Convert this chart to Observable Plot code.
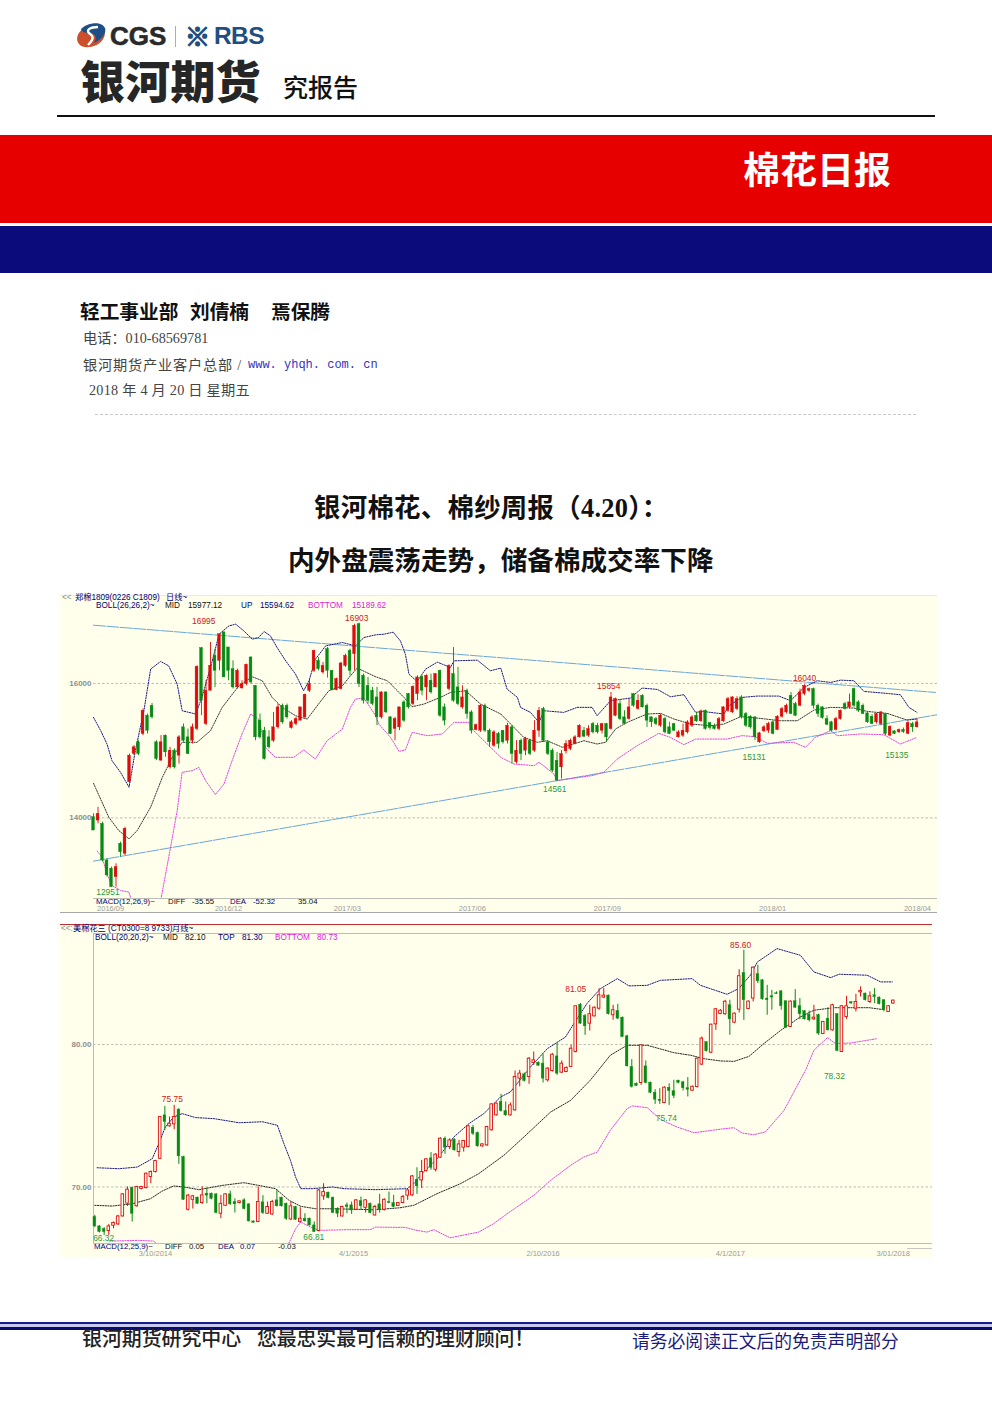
<!DOCTYPE html>
<html lang="zh">
<head>
<meta charset="utf-8">
<script src="https://cdn.jsdelivr.net/npm/d3@7"></script>
<script src="https://cdn.jsdelivr.net/npm/@observablehq/plot@0.6"></script>
<style>
html,body{margin:0;padding:0;background:#fff}
#page{position:relative;width:992px;height:1403px;overflow:hidden;background:#fff;font-family:"Noto Sans CJK SC",sans-serif;color:#222}
.t{position:absolute;white-space:pre;line-height:1;transform:translateY(-50%)}
.b{position:absolute}
.sm{font-family:"Liberation Sans","Noto Sans CJK SC",sans-serif;font-size:8.2px;color:#111}
.s2{font-size:8.2px}
.nv{color:#00007a}.mg{color:#e020e0}.gr{color:#8a8a8a}
.sr{font-family:"Liberation Serif","Noto Sans CJK SC",serif;font-size:14.2px;color:#444}
.chart{position:absolute}
.chart svg{display:block}
</style>
</head>
<body>
<div id="page">
  <svg class="b" style="left:76px;top:22px" width="32" height="28" viewBox="0 0 32 28">
    <ellipse cx="15" cy="14" rx="14.5" ry="10.5" transform="rotate(-25 15 14)" fill="#c9502a"/>
    <path d="M5 7 C12 0 26 -1 29 6 C31 12 24 18 18 21 C22 14 18 11 13 11 C9 11 6 10 5 7Z" fill="#1d4f86"/>
    <path d="M22 5 C14 5 10 8 13 11 C17 14 19 16 12 23" fill="none" stroke="#fff" stroke-width="2.4"/>
  </svg>
  <span class="t" style="left:110px;top:36px;font:bold 26px 'Liberation Sans';color:#2a2a2a;-webkit-text-stroke:.6px #2a2a2a">CGS</span>
  <div class="b" style="left:175px;top:26px;width:1px;height:21px;background:#c9a58f"></div>
  <span class="t" style="left:185px;top:35px;font:bold 25px 'Noto Sans CJK SC';color:#1f4f80;-webkit-text-stroke:1.4px #1f4f80">※</span>
  <span class="t" style="left:214px;top:36px;font:bold 24.5px 'Liberation Sans';color:#1f4f80;letter-spacing:-.6px">RBS</span>
  <span class="t" style="left:80px;top:79px;font-size:45px;font-weight:900;letter-spacing:.2px;color:#262626">银河期货</span>
  <span class="t" style="left:283px;top:86px;font-size:25px;font-weight:500;color:#111">究报告</span>
  <div class="b" style="left:57px;top:115px;width:878px;height:2px;background:#111"></div>

  <div class="b" style="left:0;top:135px;width:992px;height:88px;background:#e60000"></div>
  <div class="b" style="left:0;top:226px;width:992px;height:47px;background:#0b0b7c"></div>
  <span class="t" style="left:743px;top:168px;font-size:37px;font-weight:700;color:#fff">棉花日报</span>

  <span class="t" style="left:80px;top:311px;font-size:19.7px;font-weight:700;color:#111">轻工事业部</span>
  <span class="t" style="left:190px;top:311px;font-size:19.7px;font-weight:700;color:#111">刘倩楠</span>
  <span class="t" style="left:271px;top:311px;font-size:19.7px;font-weight:700;color:#111">焉保腾</span>
  <span class="t sr" style="left:83px;top:338px">电话：010-68569781</span>
  <span class="t sr" style="left:83px;top:365px;letter-spacing:.8px">银河期货产业客户总部 /</span>
  <span class="t" style="left:248px;top:365px;font:12px 'Liberation Mono';color:#3333bb">www. yhqh. com. cn</span>
  <span class="t sr" style="left:89px;top:390px;letter-spacing:.25px">2018 年 4 月 20 日 星期五</span>
  <div class="b" style="left:95px;top:414px;width:821px;border-top:1px dashed #c8c8c8"></div>

  <span class="t" style="left:314px;top:507px;font-size:26.4px;font-weight:700;color:#111;letter-spacing:.3px">银河棉花、棉纱周报（<span style="font-family:'Liberation Serif'">4.20</span>）：</span>
  <span class="t" style="left:288px;top:559px;font-size:26.6px;font-weight:700;color:#111">内外盘震荡走势，储备棉成交率下降</span>

  <div id="c1" class="chart" style="left:60px;top:595px;border-top:1px solid #fde3d6;border-bottom:1px solid #a8a8a8"></div>
  <div id="c2" class="chart" style="left:60px;top:924px;border-top:1px solid #c03030"></div>
  <div class="b" style="left:907px;top:1248px;width:25px;height:1px;background:#c8c8c0"></div>

  <!-- chart 1 captions -->
  <span class="t sm gr" style="left:62px;top:597.5px">&lt;&lt;</span>
  <span class="t sm nv" style="left:75px;top:597.5px">郑棉1809(0226 C1809)</span>
  <span class="t sm nv" style="left:166px;top:597.5px">日线~</span>
  <span class="t sm nv" style="left:96px;top:606px">BOLL(26,26,2)~</span>
  <span class="t sm" style="left:165px;top:606px">MID</span>
  <span class="t sm" style="left:188px;top:606px">15977.12</span>
  <span class="t sm nv" style="left:241px;top:606px">UP</span>
  <span class="t sm nv" style="left:260px;top:606px">15594.62</span>
  <span class="t sm mg" style="left:308px;top:606px">BOTTOM</span>
  <span class="t sm mg" style="left:352px;top:606px">15189.62</span>
  <span class="t sm nv" style="left:96px;top:901.5px;font-size:7.8px">MACD(12,26,9)~</span>
  <span class="t sm" style="left:168px;top:901.5px;font-size:7.8px">DIFF</span>
  <span class="t sm" style="left:192px;top:901.5px;font-size:7.8px">-35.55</span>
  <span class="t sm nv" style="left:230px;top:901.5px;font-size:7.8px">DEA</span>
  <span class="t sm nv" style="left:253px;top:901.5px;font-size:7.8px">-52.32</span>
  <span class="t sm" style="left:298px;top:901.5px;font-size:7.8px">35.04</span>

  <!-- chart 2 captions -->
  <span class="t sm gr" style="left:61px;top:928.5px">&lt;&lt;:</span>
  <span class="t sm nv" style="left:73px;top:928.5px">美棉花三 (CT0300=8 9733)</span>
  <span class="t sm nv" style="left:172px;top:928.5px">月线~</span>
  <span class="t sm s2 nv" style="left:95px;top:937.5px">BOLL(20,20,2)~</span>
  <span class="t sm s2" style="left:163px;top:937.5px">MID</span>
  <span class="t sm s2" style="left:185px;top:937.5px">82.10</span>
  <span class="t sm s2 nv" style="left:218px;top:937.5px">TOP</span>
  <span class="t sm s2 nv" style="left:242px;top:937.5px">81.30</span>
  <span class="t sm s2 mg" style="left:275px;top:937.5px">BOTTOM</span>
  <span class="t sm s2 mg" style="left:317px;top:937.5px">80.73</span>
  <span class="t sm nv" style="left:94px;top:1246.5px;font-size:7.8px">MACD(12,25,9)~</span>
  <span class="t sm" style="left:165px;top:1246.5px;font-size:7.8px">DIFF</span>
  <span class="t sm" style="left:189px;top:1246.5px;font-size:7.8px">0.05</span>
  <span class="t sm nv" style="left:218px;top:1246.5px;font-size:7.8px">DEA</span>
  <span class="t sm nv" style="left:240px;top:1246.5px;font-size:7.8px">0.07</span>
  <span class="t sm" style="left:278px;top:1246.5px;font-size:7.8px">-0.03</span>

  <!-- footer -->
  <div class="b" style="left:0;top:1322px;width:992px;height:2px;background:#1a1a88"></div>
  <div class="b" style="left:0;top:1324px;width:992px;height:3px;background:#c9c9ee"></div>
  <div class="b" style="left:0;top:1327px;width:992px;height:3px;background:#0b0b6e"></div>
  <span class="t" style="left:82px;top:1338px;font-size:19.9px;font-weight:500;color:#222">银河期货研究中心</span>
  <span class="t" style="left:257px;top:1338px;font-size:19.9px;font-weight:500;color:#222;letter-spacing:-.1px">您最忠实最可信赖的理财顾问！</span>
  <span class="t" style="left:632px;top:1341px;font-size:17.8px;color:#1a1a7a">请务必阅读正文后的免责声明部分</span>
</div>

<script>
// ===== Chart 1: 郑棉 daily candles =====
const opens1 = [
14010,13960,13911,13367,13243,13119,13614,13466,14530,14950,
15124,15248,15520,15668,15124,14852,15223,14752,15000,14926,
15347,15198,15148,15322,16525,15396,15891,16411,16336,16757,
16535,16213,15940,15926,15990,16386,15965,15446,15297,15198,
15148,15347,15668,15668,15337,15396,15446,15495,15891,16188,
16336,16163,16510,16188,15901,15916,16262,16485,16436,16881,
16114,15965,15891,15792,15495,15866,15495,15322,15347,15718,
15842,15693,15842,16099,15941,16040,15941,16188,15644,15916,
16138,15941,15644,15891,15569,15307,15297,15668,15297,15074,
15248,15297,15148,15347,14827,15148,15000,15148,15000,15297,
15619,15124,15000,14851,14752,14990,15025,15099,15198,15297,
15223,15396,15371,15297,15396,15322,15520,15693,15495,15470,
15842,15619,15817,15668,15495,15470,15371,15470,15347,15396,
15198,15223,15272,15371,15520,15436,15594,15411,15371,15322,
15436,15594,15569,15619,15792,15545,15505,15495,15124,15287,
15297,15421,15307,15505,15569,15817,15693,15668,15842,15891,
15916,15668,15644,15470,15421,15307,15470,15693,15644,15916,
15718,15668,15554,15505,15421,15396,15545,15223,15287,15272,
15307,15248,15396,15347];
const closes1 = [
13812,14060,13367,13144,12970,13268,13490,13837,14926,15050,
14950,15594,15297,15495,14876,15124,14975,15000,14752,15198,
15148,14950,15347,16247,15743,15891,16262,16188,16732,16089,
16188,15940,16188,15990,16277,16015,15198,15198,14876,15050,
15347,15644,15421,15495,15421,15470,15644,15832,15990,16485,
16213,16262,16188,15901,16064,16297,16411,16188,16856,15990,
15743,15743,15693,15495,15866,15569,15248,15470,15644,15446,
15644,15950,16089,15891,16114,15866,16138,15520,15446,16262,
15743,15693,15792,15545,15297,15381,15668,15297,15124,15272,
15099,15124,15371,14950,15000,14950,15173,14950,15297,15594,
15148,14950,14703,14554,14950,15099,15148,15198,15371,15208,
15322,15272,15272,15396,15198,15792,15767,15470,15396,15644,
15668,15743,15644,15446,15421,15396,15520,15272,15248,15297,
15272,15297,15421,15495,15436,15584,15322,15337,15322,15470,
15644,15767,15792,15767,15495,15371,15347,15198,15257,15347,
15396,15248,15505,15619,15668,15545,15520,15866,15965,15916,
15668,15545,15485,15386,15297,15470,15594,15619,15718,15668,
15594,15545,15421,15396,15545,15569,15248,15356,15248,15307,
15277,15411,15347,15421];
const highs1 = [
14060,14158,13936,13391,13268,13317,13639,13861,14950,15074,
15148,15619,15545,15703,15148,15223,15233,15050,15025,15223,
15396,15322,15396,16262,16535,16040,16609,16510,16732,16772,
16535,16336,16213,16040,16287,16396,15965,15545,15347,15297,
15569,15693,15693,15693,15446,15495,15644,15842,16064,16495,
16386,16312,16535,16188,16079,16312,16436,16510,16881,16896,
16138,16089,15941,15941,15876,15876,15505,15495,15644,15743,
15851,15965,16114,16114,16129,16138,16148,16198,15693,16277,
16535,16238,15965,15916,15594,15396,15683,15693,15322,15297,
15272,15297,15406,15371,15148,15173,15198,15173,15446,15644,
15644,15148,15025,14975,15000,15148,15173,15223,15386,15347,
15371,15421,15406,15406,15406,15866,15782,15743,15594,15767,
15851,15832,15832,15693,15505,15495,15545,15495,15421,15406,
15297,15396,15446,15520,15569,15604,15604,15421,15396,15495,
15653,15792,15802,15802,15817,15569,15520,15505,15272,15371,
15421,15446,15520,15644,15693,15866,15718,15916,15980,15931,
15931,15693,15653,15520,15436,15495,15604,15718,15842,15931,
15743,15693,15569,15535,15554,15584,15554,15371,15297,15322,
15337,15431,15421,15480];
const lows1 = [
13812,13911,13342,13119,12970,12970,13416,13441,14505,14926,
14926,15223,15248,15470,14852,14842,14901,14728,14728,14802,
15124,14941,15099,15297,15520,15371,15891,15940,16188,16089,
16040,15916,15916,15916,15965,15990,15148,15173,14861,15025,
15124,15322,15396,15470,15322,15371,15446,15470,15866,16163,
16188,16138,16079,15891,15891,15901,16238,16114,16188,15940,
15693,15693,15668,15371,15470,15554,15238,15148,15297,15421,
15619,15668,15743,15817,15743,15842,15941,15495,15371,15891,
15718,15668,15619,15470,15248,15297,15272,15272,15050,15050,
15025,15099,15099,14802,14802,14851,14926,14926,14975,15198,
15124,14926,14678,14545,14579,14950,15000,15089,15188,15198,
15198,15248,15248,15248,15124,15307,15505,15446,15386,15455,
15644,15604,15634,15347,15347,15371,15347,15248,15238,15287,
15188,15198,15248,15347,15421,15421,15307,15307,15307,15297,
15421,15569,15554,15594,15470,15347,15322,15148,15109,15272,
15257,15238,15297,15485,15545,15535,15505,15653,15817,15866,
15619,15495,15470,15371,15287,15297,15455,15604,15619,15644,
15569,15535,15406,15386,15396,15371,15223,15208,15238,15257,
15257,15238,15272,15337];

const topX1 = [0,1.6,3,4.1,6,7.9,9.3,11.2,12.7,14.9,16.7,18.6,19.7,22.7,24.1,26.4,27.9,30.1,31.6,33.4,35.3,36.7,37.9,39.3,40.8,42.7,44.9,46.7,47.9,49.3,51.6,55.3,58.2,60.1,62.7,64.5,66.6,68.2,69.3,70.1,71.9,73.8,76.4,79.3,80.1,85.3,88.2,90.5,91.9,94.2,94.9,97.1,99,100.1,104.5,107.5,110.8,111.9,114.9,119.3,121.9,125.3,128.2,131.2,133.8,135.3,140.1,141.2,144.1,147.5,152.3,154.9,157.9,160.8,163.8,166,169,171.2,176.4,179.3,181.2,183];
const topY1 = [15495,15297,15099,14852,14678,14455,15000,15594,16213,16327,16262,15990,15594,15545,15792,16336,16732,16856,16881,16782,16658,16683,16772,16708,16534,16336,16138,15891,16040,16361,16559,16609,16559,16683,16723,16732,16762,16633,16436,16138,16030,16213,16317,16238,16336,16346,16188,16228,15916,15792,15644,15569,15421,15594,15569,15644,15644,15520,15743,15782,15931,15911,15802,15832,15569,15584,15545,15668,15792,15812,15812,15743,15940,16040,16015,16049,16040,15881,15851,15832,15644,15569];
const midX1 = [0,3.4,5.6,7.9,9.7,12.7,15.3,17.5,19.7,23,26,28.6,32.3,35.3,37.5,39.7,41.9,44.9,47.5,50,52.3,55.3,57.1,58.6,62.7,65.3,69,70.8,73.4,77.1,79.3,82.7,86,90.5,92.7,95.6,98.6,100.8,104.2,109,111.9,113.8,116,118.6,123,126,129,132.7,137.1,140.1,143.8,147.5,152.7,156.4,160.1,163.8,169,171.9,176.4,180.8,183];
const midY1 = [14515,14010,13812,13688,13812,14159,14604,14901,15124,15124,15297,15644,15965,16099,16040,15792,15644,15520,15470,15693,15891,15965,16114,16228,16099,16040,15792,15653,15693,15792,15866,15891,15693,15545,15396,15198,15124,15148,15050,15148,15099,15124,15322,15421,15545,15554,15470,15396,15371,15396,15505,15485,15445,15445,15604,15644,15634,15584,15554,15455,15470];
const botX1 = [0.8,1.9,3,4.1,6,7.9,8.4,11.5,15,17,18.6,19.7,22,23.4,24.9,27.1,29,30.8,33,34.9,36.7,38.2,40.4,44.5,46.7,49.3,51.9,55.3,57.1,58.2,60.1,62.7,63.4,66,67.9,69.3,70.8,74.2,77.5,80.1,83.4,84.5,87.5,90.5,93.4,97.9,99,102.3,103,108.2,110.8,113.4,116.4,120.8,125.6,128.2,131.2,133.8,140.8,144.1,147.1,149.7,155.6,158.2,160.4,163.8,165.3,170.4,175.6,179.3,183];
const botY1 = [13505,13416,13168,12995,12921,12896,12772,12000,12797,13515,14109,14678,14703,14752,14554,14347,14505,14851,15248,15544,15470,15050,14901,14901,15010,14876,15148,15322,15644,15767,15782,15520,15396,15198,14990,15010,15272,15223,15248,15421,15421,15297,15099,14901,14802,14777,14827,14654,14555,14604,14629,14678,14876,15074,15257,15198,15089,15173,15173,15223,15208,15109,15124,15050,15198,15297,15223,15248,15238,15099,15198];
const trendUpperX1 = [0,187.1], trendUpperY1 = [16866,15866];
const trendLowerX1 = [0,187.5], trendLowerY1 = [13357,15535];
const peakText1 = ["16995","16903","15854","16040"];
const peakX1 = [24.5,58.5,114.5,158];
const peakY1 = [16930,16975,15960,16070];
const troughText1 = ["12951","14561","15131","15135"];
const troughX1 = [3.2,102.5,146.8,178.5];
const troughY1 = [12895,14430,14900,14935];
const dateTicks1 = [3.8,30,56.4,84.2,114.2,150.9,183.1];
const dateLabels1 = ["2016/09","2016/12","2017/03","2017/06","2017/09","2018/01","2018/04"];
const priceTicks1 = [14000,16000];

// ===== Chart 2: 美棉 candles =====
const opens2 = [
67.89,67.23,67.05,66.91,67.28,67.37,67.93,68.83,69.93,68.64,
69.86,69.93,70.70,71.05,71.98,75.03,74.26,74.40,75.43,72.10,
68.40,69.10,69.25,68.87,69.53,69.53,69.48,68.12,68.68,69.48,
68.94,68.87,69.06,68.78,67.58,67.54,68.92,68.12,68.07,69.06,
69.25,68.82,67.72,68.59,67.54,67.77,67.77,67.30,66.91,69.34,
69.60,69.25,68.47,67.93,68.71,68.71,68.40,69.01,68.54,68.82,
68.00,68.78,68.40,68.94,68.87,68.66,68.87,69.39,69.41,70.51,
70.46,71.12,72.01,71.21,72.06,73.39,72.80,73.32,72.45,72.76,
72.80,74.16,73.79,72.85,72.92,73.98,75.03,75.97,75.33,75.03,
75.38,77.61,77.91,77.72,78.71,78.73,78.66,77.49,78.14,79.17,
78.03,78.07,78.43,79.48,82.80,82.01,81.47,81.98,82.52,83.30,
83.44,82.06,82.36,81.89,80.58,78.43,77.25,77.30,78.47,77.32,
76.62,76.13,75.90,76.97,76.72,77.47,77.35,76.93,76.76,77.02,
78.59,80.16,79.43,81.42,82.15,82.13,82.76,81.54,82.45,85.03,
82.50,83.23,84.94,84.51,83.23,83.39,83.60,83.74,83.04,81.24,
83.04,82.69,82.34,82.10,81.77,82.06,80.74,81.82,81.00,82.13,
79.48,81.94,82.97,82.52,83.67,83.58,82.99,83.46,83.30,83.11,
82.29,82.88];
const closes2 = [
67.23,66.84,66.84,67.23,67.47,67.93,69.48,69.81,68.12,70.00,
70.00,70.93,71.05,71.82,74.91,74.56,74.44,74.91,72.15,69.10,
69.39,69.34,68.82,69.41,69.39,69.17,68.17,68.82,69.48,68.78,
68.78,68.99,68.45,67.58,67.49,68.94,68.17,68.59,68.94,68.64,
68.64,67.77,68.64,67.70,67.77,67.58,67.30,66.84,69.76,69.64,
69.22,68.17,68.12,68.59,68.59,68.35,69.06,68.64,69.06,68.17,
68.59,68.40,69.10,68.87,68.59,68.87,69.29,69.76,70.74,70.04,
71.05,71.94,71.35,72.27,73.39,72.76,73.27,72.57,72.99,73.23,
74.26,73.74,72.85,72.99,74.21,75.80,75.85,75.33,75.03,75.73,
77.72,77.96,77.44,79.01,78.89,78.52,77.61,78.31,79.29,77.96,
78.66,78.36,79.71,82.69,81.47,81.28,82.13,82.59,83.46,83.44,
82.13,82.41,81.82,80.53,78.47,77.03,77.09,79.95,77.30,76.62,
76.13,76.04,76.97,76.74,76.39,77.30,76.93,76.83,77.04,79.01,
80.42,79.53,81.40,82.48,82.38,83.01,81.77,82.17,84.80,83.11,
83.02,85.40,84.44,83.18,83.11,83.30,83.55,82.69,81.19,83.02,
82.59,82.13,81.77,81.70,81.89,80.77,81.59,81.00,82.76,79.55,
82.69,82.69,82.88,82.99,83.77,83.11,83.39,83.34,82.83,82.41,
82.69,83.09];
const highs2 = [
68.01,67.28,67.14,67.37,67.54,68.01,69.53,70.00,70.00,70.05,
70.05,70.98,71.12,71.87,74.91,75.66,74.91,75.73,75.50,72.15,
69.48,69.41,69.29,70.00,69.93,69.57,69.53,69.41,69.53,69.71,
69.17,69.01,69.17,68.82,67.61,70.00,69.39,68.94,69.06,69.81,
69.29,68.87,68.94,68.64,68.54,68.12,67.82,67.54,69.81,70.23,
69.64,69.29,68.54,68.64,68.87,68.94,69.10,69.29,69.10,68.87,
68.71,69.48,69.17,69.64,69.41,68.87,69.41,69.81,70.81,71.35,
71.87,71.98,72.41,72.34,73.46,73.51,73.39,73.39,73.27,73.27,
74.33,74.33,73.86,73.04,74.26,75.85,75.90,76.51,75.97,75.90,
78.14,78.19,78.00,79.08,79.48,78.78,79.32,78.38,79.37,80.11,
78.85,78.43,79.95,82.69,82.88,82.10,82.76,82.64,83.93,83.93,
83.48,82.76,82.83,81.94,80.65,78.94,77.30,80.00,78.85,77.37,
76.83,76.90,77.03,77.25,77.49,77.49,77.42,77.68,77.09,79.06,
80.53,80.18,81.42,82.52,82.45,83.11,83.11,82.22,85.26,86.62,
83.06,85.45,85.57,84.56,84.16,83.81,83.70,83.77,83.06,83.06,
83.86,83.23,82.38,82.36,82.76,82.13,81.63,82.59,82.83,82.17,
82.74,83.39,83.00,83.53,84.05,83.62,83.70,83.93,83.34,83.16,
82.74,83.11];
const lows2 = [
67.14,66.77,66.60,66.60,67.07,67.30,67.89,68.64,67.54,68.59,
69.81,69.86,70.23,70.98,71.94,73.98,74.21,74.02,71.59,69.06,
68.31,68.45,68.78,68.78,68.82,69.10,68.12,67.77,68.64,68.71,
68.17,68.82,68.40,67.54,67.47,67.49,68.07,68.07,68.01,68.59,
68.59,67.65,67.65,67.65,67.47,67.54,67.25,66.81,66.84,69.06,
69.17,68.12,67.84,67.89,68.12,68.07,68.35,68.35,68.17,68.12,
67.96,68.17,68.31,68.82,68.54,68.64,68.82,69.06,69.34,69.48,
69.88,71.05,71.17,71.05,72.01,72.29,72.62,72.52,72.10,72.45,
72.76,73.62,72.80,72.80,72.85,73.93,74.98,75.26,74.96,74.98,
75.33,77.03,77.37,77.21,78.54,78.47,77.30,77.37,78.07,77.84,
77.96,78.03,78.38,79.41,81.42,80.65,80.95,81.94,82.41,83.23,
82.08,81.71,81.77,80.49,78.43,76.95,77.07,77.14,77.25,76.55,
75.80,75.80,75.85,75.73,76.20,77.25,76.74,76.32,76.72,76.95,
78.54,79.48,79.36,81.00,82.10,82.06,80.65,81.47,82.22,81.70,
82.45,82.99,84.28,83.11,82.06,82.41,83.53,82.41,81.12,81.19,
82.55,81.75,81.73,81.59,81.70,80.65,80.70,80.95,80.95,79.50,
79.46,81.77,82.85,82.29,83.34,83.06,82.88,82.88,82.78,82.29,
82.27,82.83];

const topX2 = [0.5,5.2,9.1,12.3,13.7,15.1,16.9,18.7,21.6,25.5,30.9,35.9,39.1,40.5,41.9,43,44.1,46.6,50.9,53.4,60.1,66.9,68.3,70.4,73.3,76.9,80.1,83.3,86.9,89,93.3,96.9,100.8,102.6,105.4,108.3,111.9,114.4,118.3,121.1,127.9,129.7,135.4,137.9,140.4,141.9,146.1,151.1,154,157.6,159.4,165.4,168.3,170.8];
const topY2 = [71.35,71.28,71.40,71.98,73.04,74.21,74.91,75.15,74.87,74.80,74.51,74.58,74.33,73.04,71.87,70.70,69.88,69.88,70.00,69.88,69.81,69.88,70.23,71.05,71.98,73.51,74.44,75.15,76.32,76.67,78.43,79.71,80.53,81.47,82.88,83.93,84.63,84.12,84.16,84.51,84.63,84.16,83.53,83.93,84.87,85.80,86.74,86.27,85.10,84.70,84.94,84.87,84.40,84.40];
const midX2 = [0,3.7,8,11.9,14.4,16.9,19.1,22.3,27.3,31.9,35.1,38.7,41.6,44.1,47.3,50.9,60.1,65.4,68.3,73.3,78.3,82.2,87.6,91.9,97.6,101.9,106.1,110.4,114,118.3,124,127.6,130.4,134,136.9,140.1,143.3,146.9,151.1,154,158.3,163.3,165.8,169];
const midY2 = [68.71,68.66,68.82,69.17,69.71,70.07,70.00,69.81,70.11,70.30,70.11,69.88,69.06,68.64,68.47,68.47,68.40,68.54,68.71,69.53,70.23,70.93,72.22,73.51,75.26,76.08,77.49,79.25,79.95,79.95,79.43,79.25,79.01,78.85,78.82,79.17,80.07,81.00,81.94,82.41,82.59,82.59,82.59,82.45];
const botX2 = [3.1,9.4,12.6,13.7,22,30.9,36,41.6,43,44.1,45.9,48,54,59,60.1,66.5,68.3,71.1,72.6,76.1,79.7,82.2,85.4,88.3,94,97.6,101.9,104.7,107.6,110.4,114,115.1,118.3,121.1,124.7,128.3,131.1,134.7,136.9,138.6,141.1,143.6,147.6,152.2,154,156.9,158.6,161.9,167.6];
const botY2 = [66.20,66.25,66.20,65.90,65.50,66.06,65.50,66.06,67.07,67.54,67.23,66.95,67.00,67.00,67.18,67.16,67.00,66.83,67.00,66.43,66.67,66.83,67.42,68.12,69.41,70.46,71.52,72.10,72.45,73.98,75.50,75.69,75.57,74.75,74.21,73.81,73.93,74.09,74.16,73.79,73.67,73.86,75.38,78.19,79.60,80.49,80.07,80.11,80.42];
const peakText2 = ["75.75","81.05","85.60"];
const peakX2 = [16.6,103,138.3];
const peakY2 = [76.15,83.85,86.95];
const troughText2 = ["66.32","66.81","75.74","78.32"];
const troughX2 = [1.9,46.9,122.4,158.4];
const troughY2 = [66.4,66.5,74.85,77.78];
const dateTicks2 = [13,55.4,96,136.1,171];
const dateLabels2 = ["3/10/2014","4/1/2015","2/10/2016","4/1/2017","3/01/2018"];
const priceTicks2 = [70,80];

const RED = "#dc0c0c", GREEN = "#078a12", NAVY = "#00007a", MAG = "#e030e0", BG = "#ffffec";
const pts = (xs, ys) => xs.map((x, k) => [x, ys[k]]);
const band = (xs, ys, stroke, extra = {}) =>
  Plot.line(pts(xs, ys), {x: d => d[0], y: d => d[1], stroke, strokeWidth: 0.9, strokeDasharray: "1.3,1.3", clip: true, ...extra});
const labels = (txt, xs, ys, fill, size) =>
  Plot.text(txt, {x: (d, k) => xs[k], y: (d, k) => ys[k], text: d => d, fill, fontSize: size, fontFamily: "Liberation Sans"});

function drawChart(cfg) {
  const {o, c, h, l, hollowUp} = cfg;
  const idx = d3.range(o.length);
  const up = i => c[i] >= o[i];
  const ups = idx.filter(up), downs = idx.filter(i => !up(i));
  const w = cfg.halfBody;
  return Plot.plot({
    width: cfg.width, height: cfg.height,
    marginLeft: 33, marginRight: 0, marginTop: cfg.marginTop, marginBottom: cfg.marginBottom,
    x: {domain: cfg.xDomain, axis: null},
    y: {domain: cfg.yDomain, axis: null},
    style: {background: BG, fontFamily: "Liberation Sans", overflow: "hidden"},
    marks: [
      Plot.ruleY(cfg.priceTicks, {stroke: "#bdbdb0", strokeWidth: 1, strokeDasharray: "2.5,2"}),
      Plot.ruleY([cfg.yDomain[0]], {stroke: "#bdbdb5", strokeWidth: 1.2}),
      cfg.frameLeft ? Plot.ruleX([cfg.xDomain[0]], {stroke: "#bdbdb5", strokeWidth: 1}) : null,
      cfg.frameLeft ? Plot.ruleY([cfg.yDomain[1]], {stroke: "#bdbdb5", strokeWidth: 1}) : null,
      ...cfg.extra,
      Plot.ruleX(ups, {x: i => i, y1: i => l[i], y2: i => h[i], stroke: RED, strokeWidth: cfg.wick}),
      Plot.ruleX(downs, {x: i => i, y1: i => l[i], y2: i => h[i], stroke: GREEN, strokeWidth: cfg.wick}),
      Plot.rect(ups, {x1: i => i - w, x2: i => i + w, y1: i => o[i], y2: i => c[i],
        fill: hollowUp ? BG : RED, stroke: RED, strokeWidth: hollowUp ? 0.9 : 0.4}),
      Plot.rect(downs, {x1: i => i - w, x2: i => i + w, y1: i => o[i], y2: i => c[i],
        fill: GREEN, stroke: GREEN, strokeWidth: 0.4}),
      Plot.axisY(cfg.priceTicks, {tickSize: 0, tickPadding: 2, label: null, tickFormat: cfg.priceFormat,
        fontSize: 8, fill: "#8f8f8f", fontWeight: "bold"}),
      Plot.axisX(cfg.dateTicks, {tickSize: 0, tickPadding: cfg.datePad, label: null, fontSize: 7.5, fill: "#9a9a9a",
        tickFormat: v => cfg.dateLabels[cfg.dateTicks.indexOf(v)]}),
      labels(cfg.peakText, cfg.peakX, cfg.peakY, "#d01818", 8.4),
      labels(cfg.troughText, cfg.troughX, cfg.troughY, "#2a9a3a", 8.4)
    ].filter(Boolean)
  });
}

document.getElementById("c1").append(drawChart({
  o: opens1, c: closes1, h: highs1, l: lows1, hollowUp: false, halfBody: 0.31, wick: 0.9,
  width: 877, height: 316, marginTop: 7, marginBottom: 14,
  xDomain: [0, 187.55], yDomain: [12801, 17189], priceTicks: priceTicks1, priceFormat: d => String(d),
  dateTicks: dateTicks1, dateLabels: dateLabels1, datePad: 7,
  peakText: peakText1, peakX: peakX1, peakY: peakY1, troughText: troughText1, troughX: troughX1, troughY: troughY1,
  extra: [
    Plot.line(pts(trendUpperX1, trendUpperY1), {x: d => d[0], y: d => d[1], stroke: "#6aa6dc", strokeWidth: 1, strokeDasharray: "12,1.5"}),
    Plot.line(pts(trendLowerX1, trendLowerY1), {x: d => d[0], y: d => d[1], stroke: "#6aa6dc", strokeWidth: 1, strokeDasharray: "12,1.5"}),
    band(topX1, topY1, NAVY), band(midX1, midY1, "#222"), band(botX1, botY1, MAG)
  ]
}));

document.getElementById("c2").append(drawChart({
  o: opens2, c: closes2, h: highs2, l: lows2, hollowUp: true, halfBody: 0.28, wick: 1,
  width: 872, height: 333, marginTop: 8, marginBottom: 15,
  xDomain: [-0.28, 179.4], yDomain: [66.03, 87.8], priceTicks: priceTicks2, priceFormat: d => d.toFixed(2),
  dateTicks: dateTicks2, dateLabels: dateLabels2, datePad: 7.5,
  peakText: peakText2, peakX: peakX2, peakY: peakY2, troughText: troughText2, troughX: troughX2, troughY: troughY2,
  frameLeft: true,
  extra: [band(topX2, topY2, NAVY), band(midX2, midY2, "#111"), band(botX2, botY2, MAG)]
}));
</script>
</body>
</html>
